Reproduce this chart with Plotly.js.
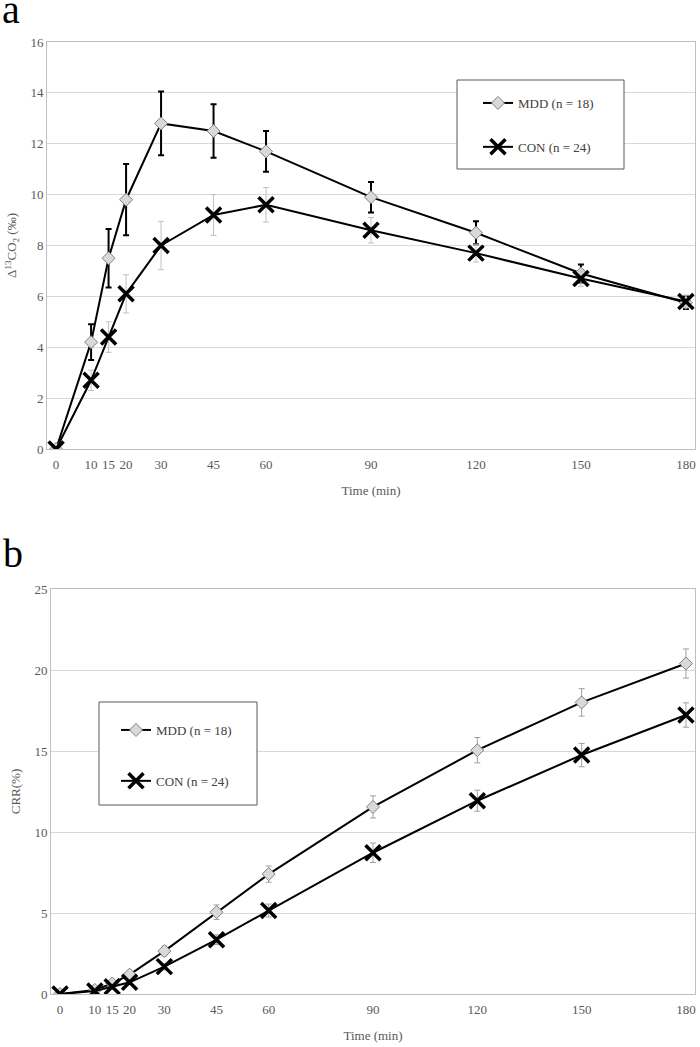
<!DOCTYPE html>
<html>
<head>
<meta charset="utf-8">
<script src="https://cdn.plot.ly/plotly-3.0.1.min.js"></script>
<style>html,body{margin:0;padding:0;background:#fff;}#chart{width:700px;height:1047px;}</style>
</head>
<body>
<div id="chart"></div>
<script>
// Time points (min)
const times = [0, 10, 15, 20, 30, 45, 60, 90, 120, 150, 180];
const tickLabels = ["0", "10", "15", "20", "30", "45", "60", "90", "120", "150", "180"];

// Panel a: Δ13CO2 (‰)
const mddDelta = [0, 4.2, 7.5, 9.8, 12.8, 12.5, 11.7, 9.9, 8.5, 6.9, 5.75];
const mddDeltaErr = [0, 0.7, 1.15, 1.4, 1.25, 1.05, 0.8, 0.6, 0.45, 0.35, 0.25];
const conDelta = [0, 2.7, 4.4, 6.1, 8.0, 9.2, 9.6, 8.6, 7.7, 6.7, 5.8];
const conDeltaErr = [0, 0.4, 0.6, 0.75, 0.95, 0.8, 0.68, 0.5, 0.35, 0.3, 0.25];

// Panel b: CRR (%)
const mddCRR = [0, 0.25, 0.65, 1.2, 2.65, 5.05, 7.4, 11.55, 15.05, 18.0, 20.4];
const mddCRRErr = [0, 0.1, 0.15, 0.2, 0.3, 0.45, 0.5, 0.68, 0.78, 0.85, 0.9];
const conCRR = [0, 0.18, 0.45, 0.72, 1.69, 3.35, 5.15, 8.72, 11.93, 14.75, 17.22];
const conCRRErr = [0, 0.08, 0.1, 0.12, 0.2, 0.3, 0.4, 0.6, 0.65, 0.72, 0.75];

const mddName = "MDD (n = 18)";
const conName = "CON (n = 24)";

const serif = "Liberation Serif, Times New Roman, serif";
const W = 700, H = 1047;
const px = v => v / W;
const py = v => 1 - v / H;

const mddMarker = {symbol: "diamond", size: 10, color: "#d9d9d9", line: {color: "#808080", width: 1}};
const conMarker = {symbol: "x-thin", size: 15, color: "#000", line: {color: "#000", width: 3.5}};

const traces = [
  {x: times, y: mddDelta, name: mddName, type: "scatter", mode: "lines+markers",
   xaxis: "x", yaxis: "y", legend: "legend", legendgroup: "a1",
   line: {color: "#000", width: 2}, marker: mddMarker,
   error_y: {type: "data", array: mddDeltaErr, visible: true, color: "#000", thickness: 2, width: 3}},
  {x: times, y: conDelta, name: conName, type: "scatter", mode: "lines+markers",
   xaxis: "x", yaxis: "y", legend: "legend", legendgroup: "a2",
   line: {color: "#000", width: 2}, marker: conMarker,
   error_y: {type: "data", array: conDeltaErr, visible: true, color: "#c0c0c0", thickness: 1, width: 3}},
  {x: times, y: mddCRR, name: mddName, type: "scatter", mode: "lines+markers",
   xaxis: "x2", yaxis: "y2", legend: "legend2", legendgroup: "b1",
   line: {color: "#000", width: 2}, marker: mddMarker,
   error_y: {type: "data", array: mddCRRErr, visible: true, color: "#a0a0a0", thickness: 1, width: 3}},
  {x: times, y: conCRR, name: conName, type: "scatter", mode: "lines+markers",
   xaxis: "x2", yaxis: "y2", legend: "legend2", legendgroup: "b2",
   line: {color: "#000", width: 2}, marker: conMarker,
   error_y: {type: "data", array: conCRRErr, visible: true, color: "#a0a0a0", thickness: 1, width: 3}}
];

const tickFont = {family: serif, size: 13, color: "#595959"};
const titleFont = {family: serif, size: 13, color: "#595959"};

function xAxis(domain, anchor) {
  return {domain: domain, anchor: anchor, range: [-2.6, 182.6], tickmode: "array",
    tickvals: times, ticktext: tickLabels, showgrid: false, zeroline: false,
    showline: true, mirror: true, linecolor: "#bfbfbf", linewidth: 1, ticks: "",
    ticklabelstandoff: 3,
    tickfont: tickFont, title: {text: "Time (min)", font: titleFont, standoff: 15}};
}
function yAxis(domain, anchor, range, dtick, title) {
  return {domain: domain, anchor: anchor, range: range, dtick: dtick, tick0: 0,
    showgrid: true, gridcolor: "#d9d9d9", gridwidth: 1, zeroline: false,
    showline: true, mirror: true, linecolor: "#bfbfbf", linewidth: 1, ticks: "",
    tickfont: tickFont, title: {text: title, font: titleFont, standoff: 10}};
}

const layout = {
  width: W, height: H,
  margin: {l: 0, r: 0, t: 0, b: 0},
  paper_bgcolor: "#fff", plot_bgcolor: "#fff",
  showlegend: true,
  xaxis: xAxis([px(47), px(695)], "y"),
  yaxis: yAxis([py(449), py(42)], "x", [0, 16], 2, "Δ<sup>13</sup>CO<sub>2</sub> (‰)"),
  xaxis2: xAxis([px(51), px(695)], "y2"),
  yaxis2: yAxis([py(994), py(589)], "x2", [0, 25], 5, "CRR(%)"),
  legend: {x: px(478), y: py(88), xanchor: "left", yanchor: "top", bgcolor: "rgba(0,0,0,0)",
    borderwidth: 0, font: {family: serif, size: 13, color: "#404040"}, tracegroupgap: 24},
  legend2: {x: px(116), y: py(715), xanchor: "left", yanchor: "top", bgcolor: "rgba(0,0,0,0)",
    borderwidth: 0, font: {family: serif, size: 13, color: "#404040"}, tracegroupgap: 31},
  shapes: [
    {type: "rect", xref: "paper", yref: "paper", x0: px(457), x1: px(624), y0: py(169), y1: py(80),
     line: {color: "#595959", width: 1}, fillcolor: "#fff", layer: "above"},
    {type: "rect", xref: "paper", yref: "paper", x0: px(99), x1: px(257), y0: py(805), y1: py(702),
     line: {color: "#595959", width: 1}, fillcolor: "#fff", layer: "above"}
  ],
  annotations: [
    {text: "a", xref: "paper", yref: "paper", x: px(0), y: py(34), xanchor: "left", yanchor: "bottom",
     showarrow: false, font: {family: serif, size: 40, color: "#000"}},
    {text: "b", xref: "paper", yref: "paper", x: px(1), y: py(578), xanchor: "left", yanchor: "bottom",
     showarrow: false, font: {family: serif, size: 40, color: "#000"}}
  ]
};

Plotly.newPlot("chart", traces, layout, {staticPlot: true, displayModeBar: false});
</script>
</body>
</html>
